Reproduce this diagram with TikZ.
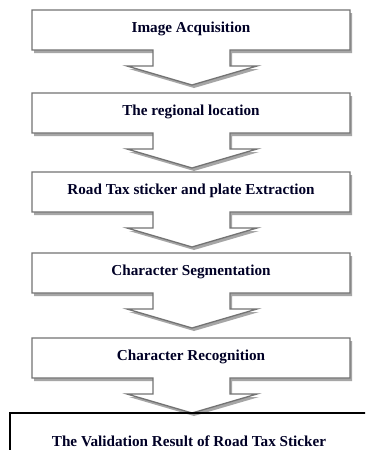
\documentclass[tikz,border=0pt]{standalone}
\usepackage{fontspec}
\setmainfont{Liberation Serif}
\begin{document}
\begin{tikzpicture}[x=1pt,y=-1pt,
  steplabel/.style={font=\fontsize{15.2}{18}\selectfont\bfseries,
    text=black!85!blue, inner sep=0pt, anchor=center},
  outline/.style={draw=black!55, line width=1.3pt, fill=white, line join=miter},
  shade/.style={fill=black!35},
  finalbox/.style={draw=black, line width=1.8pt},
  % box with a down arrow below it (callout), origin = top left corner
  flowstep/.pic={
    \fill[shade] (2,3) -- (320,3) -- (320,43) -- (200,43) -- (200,59)
      -- (227,59) -- (162,78) -- (97,59) -- (123,59) -- (123,43)
      -- (2,43) -- cycle;
    \path[outline] (0,0) -- (318,0) -- (318,40) -- (198,40) -- (198,56)
      -- (225,56) -- (160,75) -- (95,56) -- (121,56) -- (121,40)
      -- (0,40) -- cycle;
  }]
\useasboundingbox (0,0) rectangle (365,450);
\clip (0,0) rectangle (365,450);
\fill[white] (0,0) rectangle (365,450);

% process steps
\pic at (32,10)  {flowstep};
\pic at (32,93)  {flowstep};
\pic at (32,172) {flowstep};
\pic at (32,253) {flowstep};
\pic at (32,338) {flowstep};

\node[steplabel] (s1) at (191,29)  {Image Acquisition};
\node[steplabel] (s2) at (191,112) {The regional location};
\node[steplabel] (s3) at (191,191) {Road Tax sticker and plate Extraction};
\node[steplabel] (s4) at (191,272) {Character Segmentation};
\node[steplabel] (s5) at (191,357) {Character Recognition};

% final result box
\draw[finalbox] (10,470) -- (10,413) -- (380,413);
\node[steplabel] (s6) at (189,441) {The Validation Result of Road Tax Sticker};
\end{tikzpicture}
\end{document}
